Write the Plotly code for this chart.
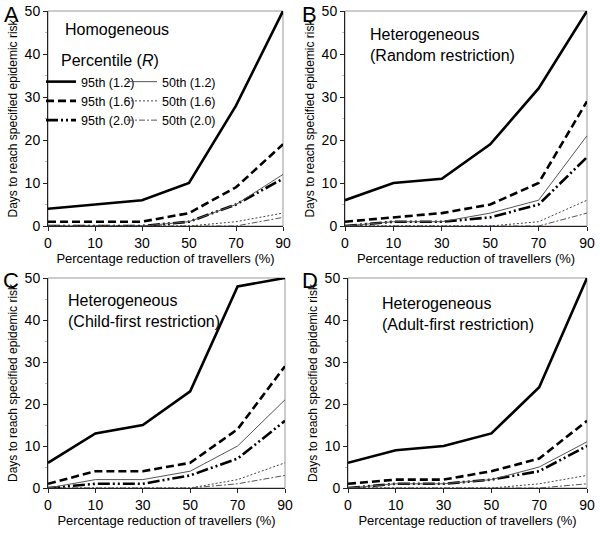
import plotly.graph_objects as go

x_labels = ["0", "10", "30", "50", "70", "90"]

# Panel A: Homogeneous
A_95_12 = [4, 5, 6, 10, 28, 50]
A_95_16 = [1, 1, 1, 3, 9, 19]
A_95_20 = [0, 0, 0, 1, 5, 11]
A_50_12 = [0, 0, 0, 1, 5, 12]
A_50_16 = [0, 0, 0, 0, 1, 3]
A_50_20 = [0, 0, 0, 0, 0, 2]

# Panel B: Heterogeneous, random restriction
B_95_12 = [6, 10, 11, 19, 32, 50]
B_95_16 = [1, 2, 3, 5, 10, 29]
B_95_20 = [0, 1, 1, 2, 5, 16]
B_50_12 = [0, 1, 1, 3, 6, 21]
B_50_16 = [0, 0, 0, 0, 1, 6]
B_50_20 = [0, 0, 0, 0, 0, 3]

# Panel C: Heterogeneous, child-first restriction
C_95_12 = [6, 13, 15, 23, 48, 50]
C_95_16 = [1, 4, 4, 6, 14, 29]
C_95_20 = [0, 1, 1, 3, 7, 16]
C_50_12 = [0, 2, 2, 4, 10, 21]
C_50_16 = [0, 0, 0, 0, 2, 6]
C_50_20 = [0, 0, 0, 0, 1, 3]

# Panel D: Heterogeneous, adult-first restriction
D_95_12 = [6, 9, 10, 13, 24, 50]
D_95_16 = [1, 2, 2, 4, 7, 16]
D_95_20 = [0, 1, 1, 2, 4, 10]
D_50_12 = [0, 1, 1, 2, 5, 11]
D_50_16 = [0, 0, 0, 0, 1, 3]
D_50_20 = [0, 0, 0, 0, 0, 1]

series_names = ["95th (1.2)", "95th (1.6)", "95th (2.0)", "50th (1.2)", "50th (1.6)", "50th (2.0)"]
panel_titles = ["Homogeneous", "Heterogeneous<br>(Random restriction)",
                "Heterogeneous<br>(Child-first restriction)", "Heterogeneous<br>(Adult-first restriction)"]
panel_letters = ["A", "B", "C", "D"]

panels = [
    [A_95_12, A_95_16, A_95_20, A_50_12, A_50_16, A_50_20],
    [B_95_12, B_95_16, B_95_20, B_50_12, B_50_16, B_50_20],
    [C_95_12, C_95_16, C_95_20, C_50_12, C_50_16, C_50_20],
    [D_95_12, D_95_16, D_95_20, D_50_12, D_50_16, D_50_20],
]

styles = [
    dict(color="black", width=2.6, dash="solid"),
    dict(color="black", width=2.6, dash="8px,4px"),
    dict(color="black", width=2.6, dash="12px,3px,2px,3px,2px,3px"),
    dict(color="#555555", width=1, dash="solid"),
    dict(color="#444444", width=1, dash="2px,2px"),
    dict(color="#555555", width=1, dash="6px,2px,2px,2px"),
]

W, H = 600, 537
def px(v): return v / W
def py(v): return 1 - v / H

# plot-area boxes in pixels: (left, right, top, bottom)
boxes = [(48, 283, 11, 226), (345, 587, 11, 226), (48, 285, 278, 488), (348, 587, 278, 488)]
letter_pos = [(2, 0), (300, 0), (1, 266), (300, 266)]
title_pos = [(63, 19), (368, 24), (66, 290), (380, 293)]

fig = go.Figure()
font_family = "Liberation Sans, Arial, sans-serif"

for i, data in enumerate(panels):
    xa = "x" if i == 0 else f"x{i+1}"
    ya = "y" if i == 0 else f"y{i+1}"
    for j, vals in enumerate(data):
        fig.add_trace(go.Scatter(
            x=x_labels, y=vals, mode="lines", name=series_names[j],
            line=styles[j], xaxis=xa, yaxis=ya,
            showlegend=(i == 0),
            legend=("legend" if j < 3 else "legend2"),
        ))
    l, r, t, b = boxes[i]
    axis_common = dict(showgrid=False, zeroline=False, showline=True, linecolor="#222222",
                       linewidth=1, ticks="outside", ticklen=4, tickcolor="#222222",
                       automargin=False,
                       tickfont=dict(size=14, family=font_family, color="black"))
    fig.layout[f"xaxis{'' if i == 0 else i+1}"] = dict(
        domain=[px(l), px(r)], anchor=ya, type="category", range=[0, 5],
        categoryorder="array", categoryarray=x_labels,
        title=dict(text="Percentage reduction of travellers (%)", standoff=0,
                   font=dict(size=13, family=font_family, color="black")),
        **axis_common)
    fig.layout[f"yaxis{'' if i == 0 else i+1}"] = dict(
        domain=[py(b), py(t)], anchor=xa, range=[0, 50], dtick=10,
        minor=dict(dtick=5, ticks="outside", ticklen=2, tickcolor="#bbbbbb"),
        title=dict(text="Days to reach specified epidemic risk", standoff=4,
                   font=dict(size=12, family=font_family, color="black")),
        **axis_common)
    fig.add_shape(type="rect", xref=f"{xa} domain", yref=f"{ya} domain",
                  x0=0, x1=1, y0=0, y1=1, line=dict(color="#999999", width=1), layer="below")
    lx, ly = letter_pos[i]
    fig.add_annotation(text=panel_letters[i], xref="paper", yref="paper",
                       x=px(lx), y=py(ly), xanchor="left", yanchor="top", showarrow=False,
                       font=dict(size=22, family=font_family, color="black"))
    tx, ty = title_pos[i]
    fig.add_annotation(text=panel_titles[i], xref="paper", yref="paper",
                       x=px(tx), y=py(ty), xanchor="left", yanchor="top", align="left",
                       showarrow=False,
                       font=dict(size=16, family=font_family, color="black"))

fig.add_annotation(text="Percentile (<i>R</i>)", xref="paper", yref="paper",
                   x=px(59), y=py(50), xanchor="left", yanchor="top", showarrow=False,
                   font=dict(size=16, family=font_family, color="black"))

leg_common = dict(bgcolor="rgba(0,0,0,0)", borderwidth=0, tracegroupgap=0,
                  font=dict(size=12.5, family=font_family, color="black"),
                  xanchor="left", yanchor="top", itemwidth=30)
fig.update_layout(
    width=W, height=H, margin=dict(l=0, r=0, t=0, b=0, autoexpand=False),
    plot_bgcolor="white", paper_bgcolor="white",
    legend=dict(x=px(41), y=py(67), **leg_common),
    legend2=dict(x=px(122), y=py(67), **leg_common),
)

fig.write_html("out.html", config={"displayModeBar": False},
               post_script="document.body.style.margin='0';document.body.style.padding='0';")
